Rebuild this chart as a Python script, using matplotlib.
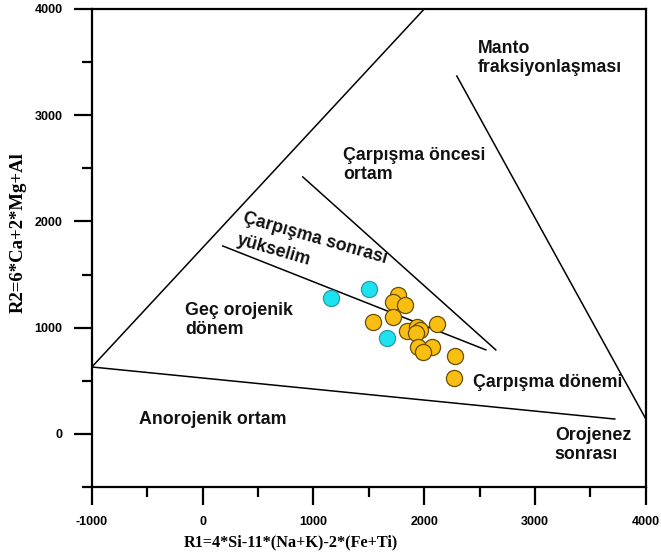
import numpy as np
import matplotlib.pyplot as plt
from matplotlib.ticker import MultipleLocator

plt.rcParams['axes.unicode_minus'] = False

# R1 / R2 (De la Roche)
r1_jaune = [1764, 1719, 1825, 1539, 1719, 1840, 1936, 1960, 1930, 2111, 1945, 2066, 1990, 2276, 2267]
r2_jaune = [1308, 1238, 1214, 1051, 1101, 969, 1010, 979, 950, 1035, 822, 814, 775, 734, 524]
r1_cyan = [1157, 1500, 1662]
r2_cyan = [1280, 1365, 904]

# limites des champs
lignes = [
    ([-1000, 2000], [630, 4000]),
    ([-1000, 3720], [630, 140]),
    ([2294, 4000], [3369, 141]),
    ([904, 2646], [2419, 791]),
    ([182, 2556], [1769, 791]),
]

fig = plt.figure(figsize=(6.61, 5.58), dpi=100)
ax = fig.add_axes([0.139, 0.1272, 0.838, 0.8567])

for xs, ys in lignes:
    ax.plot(xs, ys, color='black', lw=1.1)

ax.scatter(r1_cyan, r2_cyan, s=135, c='#1CE3EF', edgecolors='#2a9aa5', linewidths=0.9, zorder=3)
ax.scatter(r1_jaune, r2_jaune, s=135, c='#F9BE12', edgecolors='#6a4e00', linewidths=0.9, zorder=3)

police = dict(family=['Liberation Sans', 'DejaVu Sans'], fontweight='bold', fontsize=12.8, color='#111111')
ax.text(2484, 3708, "Manto\nfraksiyonlaşması", va='top', ha='left', linespacing=1.15, **police)
ax.text(1265, 2701, "Çarpışma öncesi\nortam", va='top', ha='left', linespacing=1.15, **police)
ax.text(-161, 1242, "Geç orojenik\ndönem", va='top', ha='left', linespacing=1.15, **police)
ax.text(-576, 216, "Anorojenik ortam", va='top', ha='left', **police)
ax.text(2439, 480, "Çarpışma dönemi", va='center', ha='left', **police)
ax.text(3179, 66, "Orojenez\nsonrası", va='top', ha='left', linespacing=1.15, **police)
ax.text(354, 1995, "Çarpışma sonrası", rotation=-16, rotation_mode='anchor',
        va='baseline', ha='left', **police)
ax.text(300, 1788, "yükselim", rotation=-16, rotation_mode='anchor',
        va='baseline', ha='left', **police)

ax.set_xlim(-1000, 4000)
ax.set_ylim(-500, 4000)
ax.xaxis.set_major_locator(MultipleLocator(1000))
ax.xaxis.set_minor_locator(MultipleLocator(500))
ax.yaxis.set_major_locator(MultipleLocator(1000))
ax.yaxis.set_minor_locator(MultipleLocator(500))
ax.set_yticks([0, 1000, 2000, 3000, 4000])
ax.tick_params(which='major', direction='out', length=13, width=1.6, pad=8)
ax.tick_params(which='minor', direction='out', length=7.5, width=1.6)
for lab in ax.get_xticklabels() + ax.get_yticklabels():
    lab.set_family(['Liberation Sans Narrow', 'Liberation Sans'])
    lab.set_fontweight('bold')
    lab.set_fontsize(9)
for sp in ax.spines.values():
    sp.set_linewidth(1.6)

ax.set_xlabel("R1=4*Si-11*(Na+K)-2*(Fe+Ti)", family='Liberation Serif', fontweight='bold', fontsize=11.7)
ax.set_ylabel("R2=6*Ca+2*Mg+Al", family='Liberation Serif', fontweight='bold', fontsize=13.5)
ax.xaxis.set_label_coords(0.36, -0.1)
ax.yaxis.set_label_coords(-0.117, 0.533)

fig.savefig("out.png", dpi=100)
